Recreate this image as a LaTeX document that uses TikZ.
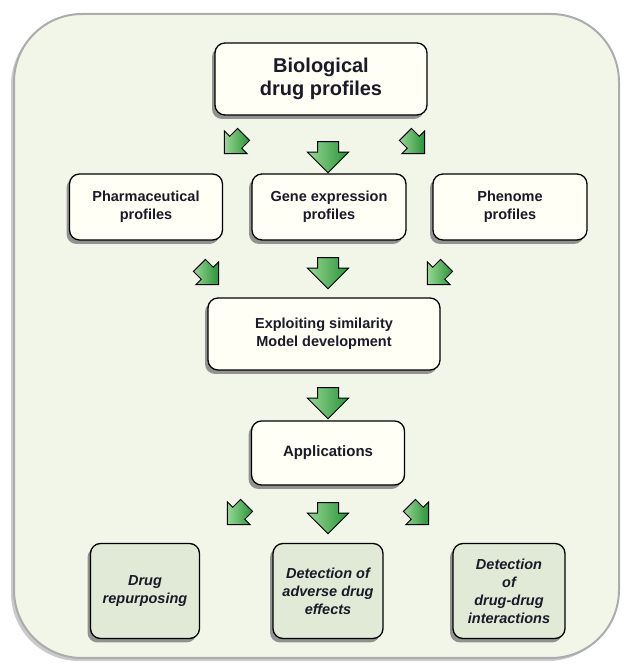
\documentclass[tikz,border=0pt]{standalone}
\usepackage{fontspec}
\setmainfont{Liberation Sans}
\usetikzlibrary{shapes.arrows,shadows}
\definecolor{panel}{HTML}{F1F6E9}
\definecolor{cream}{HTML}{FFFFF6}
\definecolor{leaf}{HTML}{E1EAD7}
\definecolor{ink}{HTML}{1A1A28}
\definecolor{greenlight}{HTML}{94D893}
\definecolor{greendark}{HTML}{2C9238}
\tikzset{
  card/.style = {draw=black, line width=1.3pt, rounded corners=10pt,
                 fill=cream, text=ink, align=center, inner sep=0pt,
                 drop shadow={shadow xshift=-3pt, shadow yshift=-4pt,
                              fill=black!55, opacity=0.75}},
  leafcard/.style = {card, fill=leaf, font=\fontsize{14.5}{18}\selectfont\bfseries\itshape},
  flow/.style = {single arrow, draw=black, line width=1pt,
                 inner xsep=0pt, inner ysep=10pt,
                 minimum height=31pt, single arrow head extend=10pt,
                 left color=greenlight, right color=greendark},
  diag/.style = {flow, minimum height=27pt, inner ysep=8pt,
                 single arrow head extend=7.5pt}
}

\begin{document}
\begin{tikzpicture}[x=1pt,y=1pt]
	\useasboundingbox (0,0) rectangle (622,666);
	\def \mid{328}

	% Panel
	\draw[rounded corners=68pt, fill=panel, draw=gray!65, line width=2pt,
	      drop shadow={shadow xshift=-3pt, shadow yshift=-3pt, fill=black!35, opacity=0.6}]
	      (14,8) rectangle (619,652);

	% Sources
	\node[card, minimum width=212pt, minimum height=72pt,
	      font=\fontsize{20}{23}\selectfont\bfseries] (bio) at (321,587) {Biological\\drug profiles};

	\node[diag, rotate=-135] (a1) at (237,525) {};
	\node[flow, rotate=-90]  (a2) at (\mid,514) {};
	\node[diag, rotate=-45]  (a3) at (412,525) {};

	% Profiles
	\node[card, minimum width=153pt, minimum height=66pt,
	      font=\fontsize{14.5}{18}\selectfont\bfseries] (pharma) at (146,459) {Pharmaceutical\\profiles};
	\node[card, minimum width=154pt, minimum height=66pt,
	      font=\fontsize{14.5}{18}\selectfont\bfseries] (gene) at (329,459) {Gene expression\\profiles};
	\node[card, minimum width=154pt, minimum height=66pt,
	      font=\fontsize{14.5}{18}\selectfont\bfseries] (pheno) at (510,459) {Phenome\\profiles};

	\node[diag, rotate=-45]  (b1) at (206,394) {};
	\node[flow, rotate=-90]  (b2) at (\mid,398) {};
	\node[diag, rotate=-135] (b3) at (440,394) {};

	% Model
	\node[card, minimum width=232pt, minimum height=72pt,
	      font=\fontsize{14.5}{18}\selectfont\bfseries] (model) at (324,332) {Exploiting similarity\\Model development};

	\node[flow, rotate=-90] (c1) at (\mid,268) {};

	\node[card, minimum width=153pt, minimum height=64pt,
	      font=\fontsize{15}{18}\selectfont\bfseries] (apps) at (\mid,213) {Applications};

	\node[diag, rotate=-135] (d1) at (240,154) {};
	\node[flow, rotate=-90]  (d2) at (\mid,153) {};
	\node[diag, rotate=-45]  (d3) at (416,154) {};

	% Outcomes
	\node[leafcard, minimum width=109pt, minimum height=95pt] (repurp) at (145,75) {Drug\\repurposing};
	\node[leafcard, minimum width=110pt, minimum height=95pt] (adverse) at (\mid,75) {Detection of\\adverse drug\\effects};
	\node[leafcard, minimum width=112pt, minimum height=95pt] (ddi) at (509,75) {Detection\\of\\drug-drug\\interactions};
\end{tikzpicture}
\end{document}
